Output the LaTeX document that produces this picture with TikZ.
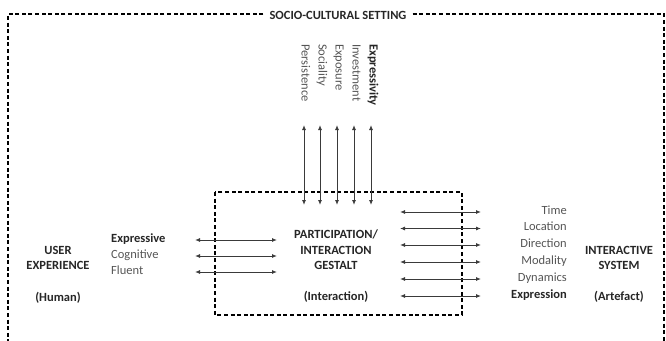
\documentclass[tikz,border=0pt]{standalone}
\usepackage{fontspec}
\setmainfont{Carlito}
\usetikzlibrary{arrows.meta}
\definecolor{txtgray}{HTML}{555555}
\definecolor{txtdark}{HTML}{262626}
\definecolor{arrgray}{HTML}{3A3A3A}
\begin{document}
\begin{tikzpicture}[x=1pt,y=-1pt,
  lbl/.style={font=\fontsize{12.5}{15.5}\selectfont, text=txtgray, inner sep=0pt},
  bld/.style={font=\fontsize{12.5}{15.5}\selectfont\bfseries, text=txtdark, inner sep=0pt},
  dbox/.style={draw=black, line width=1.6pt, dash pattern=on 4pt off 2.6pt},
  biarrow/.style={draw=arrgray, line width=0.9pt, {Latex[length=5pt,width=4pt]}-{Latex[length=5pt,width=4pt]}},
  vlbl/.style={rotate=-90, anchor=mid west}]
\useasboundingbox (0,0) rectangle (666,340);

% outer frame with title
\node[bld, inner xsep=6pt] (title) at (338,15) {SOCIO-CULTURAL SETTING};
\draw[dbox] (title.west |- 0,14) -- (8,14) -- (8,350);
\draw[dbox] (title.east |- 0,14) -- (664,14) -- (664,350);

% inner box
\draw[dbox] (215,192) rectangle (462,315);

% left side
\node[bld, align=center] (user) at (58,258) {USER\\EXPERIENCE};
\node[bld] (human) at (58,298) {(Human)};
\node[bld, anchor=mid west] (lexp) at (111,240) {Expressive};
\node[lbl, anchor=mid west] (lcog) at (111,256) {Cognitive};
\node[lbl, anchor=mid west] (lflu) at (111,272) {Fluent};

% centre
\node[bld, align=center] (gest) at (336,250) {PARTICIPATION/\\INTERACTION\\GESTALT};
\node[bld] (inter) at (336,297) {(Interaction)};

% right side
\node[lbl, anchor=mid east] (rtime) at (567,212) {Time};
\node[lbl, anchor=mid east] (rloc) at (567,228.5) {Location};
\node[lbl, anchor=mid east] (rdir) at (567,245) {Direction};
\node[lbl, anchor=mid east] (rmod) at (567,262) {Modality};
\node[lbl, anchor=mid east] (rdyn) at (567,279) {Dynamics};
\node[bld, anchor=mid east] (rexp) at (567,296) {Expression};
\node[bld, align=center] (isys) at (619,258) {INTERACTIVE\\SYSTEM};
\node[bld] (artef) at (619,297) {(Artefact)};

% top vertical labels
\node[lbl, vlbl] (vper) at (304,44) {Persistence};
\node[lbl, vlbl] (vsoc) at (321,44) {Sociality};
\node[lbl, vlbl] (vexpo) at (338,44) {Exposure};
\node[lbl, vlbl] (vinv) at (355,44) {Investment};
\node[bld, vlbl] (vexpr) at (372,44) {Expressivity};

% connectors: coordinates
\foreach \i/\x in {1/304,2/320,3/337,4/354,5/371}{
  \coordinate (vt\i) at (\x,125);
  \coordinate (vb\i) at (\x,205);
  \draw[biarrow] (vt\i) -- (vb\i);
}
\foreach \i/\y in {1/240,2/256,3/272}{
  \coordinate (la\i) at (195,\y);
  \coordinate (lb\i) at (277,\y);
  \draw[biarrow] (la\i) -- (lb\i);
}
\foreach \i/\y in {1/212,2/228.5,3/245,4/262,5/279,6/296}{
  \coordinate (ra\i) at (400,\y);
  \coordinate (rb\i) at (481,\y);
  \draw[biarrow] (ra\i) -- (rb\i);
}
\end{tikzpicture}
\end{document}
